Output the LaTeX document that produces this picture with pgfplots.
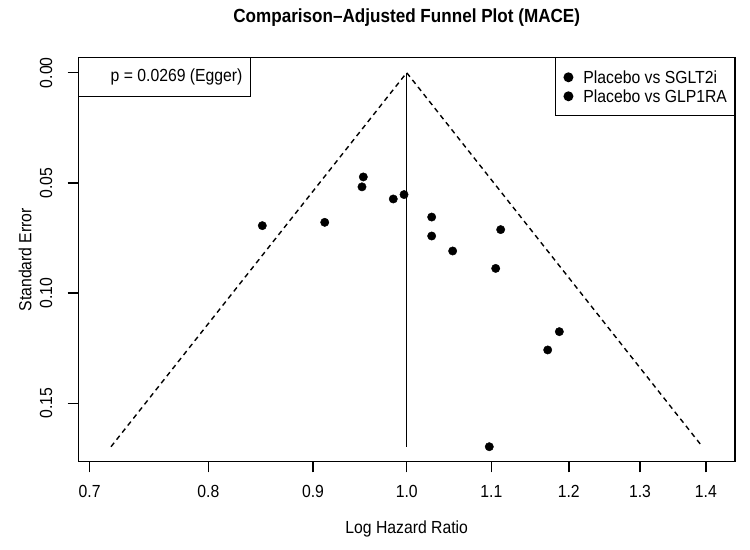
\documentclass[border=0pt]{standalone}
\usepackage{fontspec}
\setmainfont{Liberation Sans}[FakeStretch=0.9]
\usepackage{pgfplots}
\usepackage{pgfplotstable}
\pgfplotsset{compat=1.18}

% log hazard ratio and standard error of each trial comparison
\pgfplotstableread{
lhr se
-0.1624 0.0694
-0.0488 0.0473
-0.0151 0.0573
0.0281 0.0655
0.0517 0.0809
0.1001 0.0888
0.1717 0.1175
}\sglt
\pgfplotstableread{
lhr se
-0.0922 0.0679
-0.0503 0.0518
-0.0030 0.0553
0.0281 0.0741
0.1057 0.0712
0.1586 0.1258
0.0929 0.1697
}\glp

\newcommand\lab{\fontsize{17.5bp}{21bp}\selectfont}

\begin{document}
\begin{tikzpicture}[x=1bp,y=1bp]
\path (0,0) rectangle (750,550);
\begin{axis}[
  at={(78.3bp,88.3bp)}, anchor=south west,
  scale only axis, width=656.7bp, height=404bp,
  xmin=-0.3694, xmax=0.3693,
  ymin=-0.0068, ymax=0.1765, y dir=reverse,
  axis line style={line width=1.5bp},
  tick style={line width=1.5bp, black},
  tick align=outside, major tick length=10.6bp,
  xtick pos=left, ytick pos=left,
  xticklabel pos=left,
  xtick={-0.356675,-0.223144,-0.105361,0,0.0953102,0.182322,0.262364,0.336472},
  xticklabels={0.7,0.8,0.9,1.0,1.1,1.2,1.3,1.4},
  ytick={0,0.05,0.10,0.15},
  yticklabels={0.00,0.05,0.10,0.15},
  ticklabel style={font=\lab},
  yticklabel style={rotate=90, anchor=center, yshift=21.7bp},
  xticklabel style={anchor=center, yshift=-19.4bp},
  legend style={at={(1,1)}, anchor=north east, draw=black, line width=1.2bp,
    outer sep=0pt, font=\lab, inner xsep=8bp, inner ysep=13.1bp, row sep=6bp,
    nodes={inner sep=0pt, text height=13bp, text depth=0pt}},
  legend cell align=left,
  legend image code/.code={\fill[black, draw=none] (4.6bp,0bp) circle (5bp);\path[draw=none, fill=none] (0bp,0bp) rectangle (19.6bp,0bp);},
]
% funnel limits and the pooled estimate
\addplot[black, line width=1.4bp, dash pattern=on 5bp off 4bp, forget plot]
  coordinates {(-0.3326,0.1697) (0,0) (0.3326,0.1697)};
\addplot[black, line width=1.5bp, forget plot]
  coordinates {(0,0) (0,0.1697)};
\addplot[only marks, mark=*, mark size=4.2bp, black] table[x=lhr,y=se]{\sglt};
\addlegendentry{Placebo vs SGLT2i}
\addplot[only marks, mark=*, mark size=4.2bp, black] table[x=lhr,y=se]{\glp};
\addlegendentry{Placebo vs GLP1RA}
\end{axis}
% Egger test box
\draw[line width=1.2bp] (78.3,453.3) rectangle (250.7,492.3);
\node[anchor=east, inner sep=0pt, font=\lab] at (242.7,473) {p = 0.0269 (Egger)};
% titles
\node[font=\fontsize{19bp}{23bp}\selectfont\bfseries] at (406.7,532) {Comparison–Adjusted Funnel Plot (MACE)};
\node[font=\lab] at (406.7,21) {Log Hazard Ratio};
\node[font=\lab, rotate=90] at (25,290.3) {Standard Error};
\end{tikzpicture}
\end{document}
